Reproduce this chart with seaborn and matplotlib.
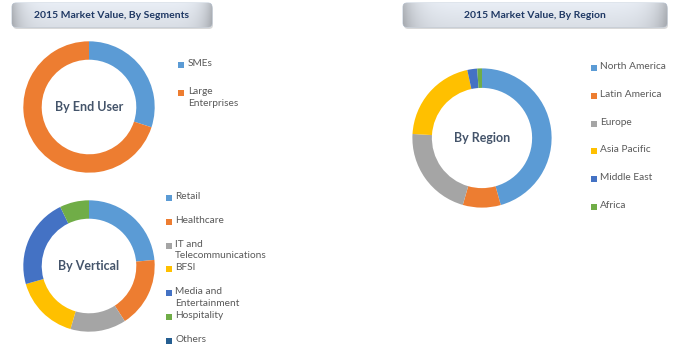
import matplotlib
matplotlib.use("Agg")
import matplotlib.pyplot as plt
import seaborn as sns
import numpy as np
from matplotlib.patches import FancyBboxPatch, Rectangle

sns.set_theme(style="white")
plt.rcParams['font.family'] = ['Lato', 'DejaVu Sans']

# --- data (shares in %) ---
user_labels = ['SMEs', 'Large\nEnterprises']
user_values = [30.0, 70.0]

vertical_labels = ['Retail', 'Healthcare', 'IT and\nTelecommunications', 'BFSI',
                   'Media and\nEntertainment', 'Hospitality', 'Others']
vertical_values = [23.5, 17.3, 13.7, 16.0, 22.2, 7.2, 0.0]

region_labels = ['North America', 'Latin America', 'Europe', 'Asia Pacific',
                 'Middle East', 'Africa']
region_values = [45.7, 8.8, 21.5, 20.7, 2.3, 1.1]

palette = sns.color_palette(['#5B9BD5', '#ED7D31', '#A5A5A5', '#FFC000',
                             '#4472C4', '#70AD47', '#255E91'])

W, H = 678, 360
fig = plt.figure(figsize=(W / 100, H / 100), dpi=100)
fig.patch.set_facecolor('white')


def donut(cx, cy, r, values, center_text):
    ax = fig.add_axes([(cx - r) / W, (H - cy - r) / H, 2 * r / W, 2 * r / H])
    ax.pie(values, colors=palette[:len(values)], startangle=90, counterclock=False,
           radius=1.0, wedgeprops=dict(width=0.28, edgecolor='none'))
    ax.set_xlim(-1.02, 1.02)
    ax.set_ylim(-1.02, 1.02)
    ax.set_aspect('auto')
    ax.axis('off')
    ax.text(0, 0, center_text, ha='center', va='center', fontsize=9,
            fontweight='bold', color='#44546A')
    return ax


donut(89, 107, 67, user_values, 'By End User')
donut(89, 266, 67, vertical_values, 'By Vertical')
donut(482, 138, 71, region_values, 'By Region')

# overlay in pixel coordinates for banners and legends
ov = fig.add_axes([0, 0, 1, 1], zorder=5)
ov.set_xlim(0, W)
ov.set_ylim(H, 0)
ov.axis('off')
ov.patch.set_alpha(0)


def banner(x0, y0, w, h, text):
    shadow = FancyBboxPatch((x0 + 1, y0 + 2), w, h, boxstyle='round,pad=0,rounding_size=4',
                            facecolor='#BFBFBF', edgecolor='none', alpha=0.6)
    ov.add_patch(shadow)
    box = FancyBboxPatch((x0, y0), w, h, boxstyle='round,pad=0,rounding_size=4',
                         facecolor='none', edgecolor='#B4C2D4', linewidth=0.6)
    ov.add_patch(box)
    xs = np.linspace(-1, 1, 200)
    ys = np.linspace(0, 1, 40)
    X, Y = np.meshgrid(xs, ys)
    shade = 0.92 + 0.06 * (1 - Y) - 0.22 * np.abs(X) ** 10
    top = np.array([0.93, 0.95, 0.98])
    img = np.clip(shade[..., None] * top[None, None, :], 0, 1)
    im = ov.imshow(img, extent=[x0, x0 + w, y0 + h, y0], origin='upper',
                   aspect='auto', zorder=1)
    im.set_clip_path(box)
    ov.text(x0 + w / 2, y0 + h / 2, text, ha='center', va='center', fontsize=7.5,
            fontweight='bold', color='#1F3864', zorder=3)


banner(12, 3, 200, 24, '2015 Market Value, By Segments')
banner(403, 3, 264, 24, '2015 Market Value, By Region')


def legend(mx, tx, y_first, pitch, labels, size=6):
    for i, lab in enumerate(labels):
        yc = y_first + i * pitch
        ov.add_patch(Rectangle((mx, yc - size / 2), size, size,
                               facecolor=palette[i], edgecolor='none'))
        ov.text(tx, yc - 6, lab, ha='left', va='top', fontsize=7.3,
                color='#595959', linespacing=1.4)


legend(178, 188, 65, 28, user_labels)
legend(166, 175, 198, 23.8, vertical_labels)
legend(591, 600, 68, 27.8, region_labels)
ov.set_xlim(0, W)
ov.set_ylim(H, 0)

fig.savefig('out.png', dpi=100, facecolor='white')
